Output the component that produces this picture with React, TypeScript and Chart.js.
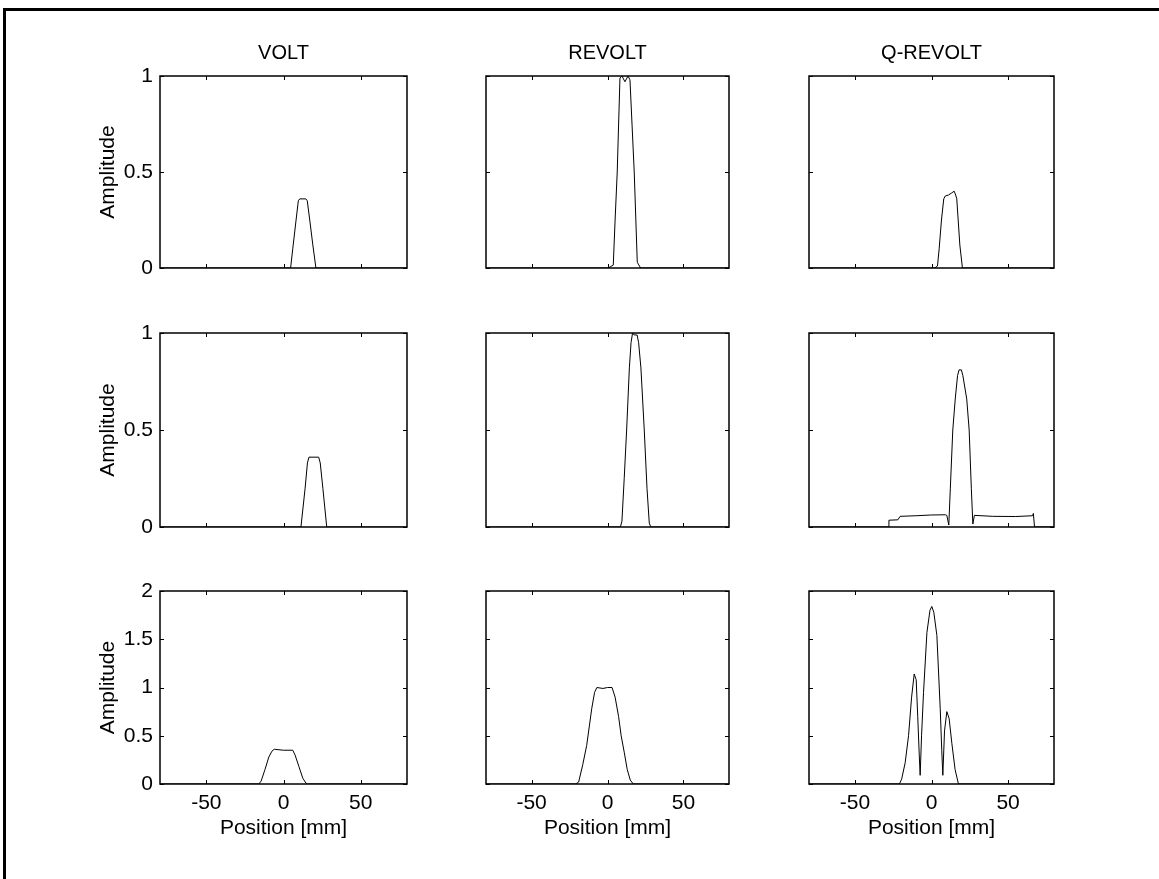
import React, { useEffect, useRef } from "react";
import { Chart, registerables } from "chart.js";

Chart.register(...registerables);
Chart.defaults.font.family = "'Liberation Sans', Arial, Helvetica, sans-serif";
Chart.defaults.color = "#000";

// ---------- data ----------
const columnTitles = ["VOLT", "REVOLT", "Q-REVOLT"];
const xTickValues = [-50, 0, 50];
const yTicksUnit = [0, 0.5, 1];
const yTicksDouble = [0, 0.5, 1, 1.5, 2];
const xAxisLabel = "Position [mm]";
const yAxisLabel = "Amplitude";

const voltRow1X = [-80, 4.6, 6, 8, 9.6, 10.5, 14.5, 15.4, 17, 19, 21, 80];
const voltRow1Y = [0, 0, 0.1, 0.24, 0.35, 0.36, 0.36, 0.35, 0.25, 0.12, 0, 0];

const revoltRow1X = [-80, 0.5, 3.8, 5, 6.4, 8.2, 9.5, 11.5, 13.5, 14.8, 16.2, 17.6, 19.6, 21.8, 80];
const revoltRow1Y = [0, 0, 0.015, 0.25, 0.5, 0.99, 1.0, 0.97, 1.0, 0.98, 0.74, 0.5, 0.03, 0, 0];

const qrevoltRow1X = [-80, 2, 3.9, 5, 6.5, 8, 9, 11, 13, 14.8, 15.8, 16.5, 18.5, 20.2, 80];
const qrevoltRow1Y = [0, 0, 0.01, 0.1, 0.25, 0.36, 0.375, 0.38, 0.39, 0.4, 0.38, 0.36, 0.12, 0, 0];

const voltRow2X = [-80, 11.3, 14, 15.5, 16.5, 22.8, 23.8, 25.5, 28, 80];
const voltRow2Y = [0, 0, 0.2, 0.33, 0.36, 0.36, 0.33, 0.2, 0, 0];

const revoltRow2X = [-80, 8.5, 9.5, 11, 12.6, 14.4, 15.5, 16.5, 17.5, 19.5, 20.5, 22, 24.2, 26, 27.5, 28.5, 80];
const revoltRow2Y = [0, 0, 0.03, 0.25, 0.5, 0.82, 0.95, 1.0, 0.99, 0.99, 0.95, 0.82, 0.5, 0.2, 0.02, 0, 0];

const qrevoltRow2X = [-80, -28, -27.8, -22, -20.5, -10, 0, 9, 10, 11.3, 12.3, 13.9, 15.5, 17, 18, 19.5, 20.5, 23, 24.6, 26, 27, 28, 40, 55, 66, 66.5, 67.3, 80];
const qrevoltRow2Y = [0, 0, 0.035, 0.037, 0.055, 0.058, 0.062, 0.063, 0.06, 0.01, 0.2, 0.5, 0.66, 0.78, 0.81, 0.81, 0.78, 0.66, 0.5, 0.2, 0.015, 0.06, 0.055, 0.054, 0.058, 0.07, 0, 0];

const voltRow3X = [-80, -16, -14.5, -12, -9.5, -7.5, -6, 0, 6, 7.5, 10, 12.5, 14.5, 15.5, 80];
const voltRow3Y = [0, 0, 0.03, 0.15, 0.28, 0.34, 0.36, 0.35, 0.35, 0.3, 0.18, 0.06, 0.01, 0, 0];

const revoltRow3X = [-80, -21, -19, -16.3, -13.7, -10.4, -8.5, -7, -3, 0, 3, 5, 7.3, 9, 11, 13, 15, 17, 80];
const revoltRow3Y = [0, 0, 0.02, 0.2, 0.4, 0.78, 0.95, 1.0, 0.99, 1.0, 1.0, 0.9, 0.7, 0.5, 0.33, 0.15, 0.04, 0, 0];

const qrevoltRow3X = [-80, -21, -19.5, -17.2, -15, -13, -11.3, -10, -9, -8, -7.4, -6.5, -5.2, -3, -1, 0.2, 1.5, 3.5, 5.7, 6.7, 7.4, 8.5, 10, 11.5, 13.3, 15.4, 17.6, 80];
const qrevoltRow3Y = [0, 0, 0.05, 0.22, 0.5, 0.9, 1.14, 1.08, 0.7, 0.3, 0.09, 0.5, 0.95, 1.57, 1.8, 1.84, 1.78, 1.54, 0.78, 0.35, 0.09, 0.55, 0.75, 0.68, 0.42, 0.15, 0, 0];

// ---------- layout ----------
const colLeft = [160, 486, 809];
const colRight = [407, 729, 1054];
const rowTop = [76, 333, 591];
const rowBottom = [268, 527, 784];
const TOP_SPACE = 40;
const RIGHT_SPACE = 10;
const TITLE_FONT = 20;
const AXIS_FONT = 21;

type PanelDef = {
  row: number;
  col: number;
  xs: number[];
  ys: number[];
};

const panels: PanelDef[] = [
  { row: 0, col: 0, xs: voltRow1X, ys: voltRow1Y },
  { row: 0, col: 1, xs: revoltRow1X, ys: revoltRow1Y },
  { row: 0, col: 2, xs: qrevoltRow1X, ys: qrevoltRow1Y },
  { row: 1, col: 0, xs: voltRow2X, ys: voltRow2Y },
  { row: 1, col: 1, xs: revoltRow2X, ys: revoltRow2Y },
  { row: 1, col: 2, xs: qrevoltRow2X, ys: qrevoltRow2Y },
  { row: 2, col: 0, xs: voltRow3X, ys: voltRow3Y },
  { row: 2, col: 1, xs: revoltRow3X, ys: revoltRow3Y },
  { row: 2, col: 2, xs: qrevoltRow3X, ys: qrevoltRow3Y },
];

const framePlugin = {
  id: "matlabFrame",
  afterDatasetsDraw(chart: any) {
    const { ctx, chartArea: a, scales } = chart;
    const tl = 4;
    ctx.save();
    ctx.strokeStyle = "#000";
    ctx.lineWidth = 1;
    ctx.beginPath();
    for (const t of scales.x.ticks) {
      const px = Math.round(scales.x.getPixelForValue(t.value)) + 0.5;
      ctx.moveTo(px, a.bottom);
      ctx.lineTo(px, a.bottom - tl);
      ctx.moveTo(px, a.top);
      ctx.lineTo(px, a.top + tl);
    }
    for (const t of scales.y.ticks) {
      const py = Math.round(scales.y.getPixelForValue(t.value)) + 0.5;
      ctx.moveTo(a.left, py);
      ctx.lineTo(a.left + tl, py);
      ctx.moveTo(a.right, py);
      ctx.lineTo(a.right - tl, py);
    }
    ctx.stroke();
    ctx.lineWidth = 1.5;
    ctx.strokeRect(a.left, a.top, a.right - a.left, a.bottom - a.top);
    ctx.restore();
  },
};

function Panel({ def }: { def: PanelDef }) {
  const ref = useRef<HTMLCanvasElement | null>(null);
  const showY = def.col === 0;
  const showX = def.row === 2;
  const showTitle = def.row === 0;
  const leftW = showY ? 70 : 10;
  const bottomH = showX ? 57 : 20;
  const L = colLeft[def.col];
  const R = colRight[def.col];
  const T = rowTop[def.row];
  const B = rowBottom[def.row];
  const width = leftW + (R - L) + RIGHT_SPACE;
  const height = TOP_SPACE + (B - T) + bottomH;
  const yTicks = def.row === 2 ? yTicksDouble : yTicksUnit;
  const yMax = yTicks[yTicks.length - 1];

  useEffect(() => {
    if (!ref.current) return;
    const chart = new Chart(ref.current, {
      type: "line",
      data: {
        datasets: [
          {
            data: def.xs.map((x, i) => ({ x, y: def.ys[i] })),
            borderColor: "#000",
            borderWidth: 1,
            pointRadius: 0,
            tension: 0,
            fill: false,
          },
        ],
      },
      options: {
        responsive: false,
        animation: false,
        events: [],
        layout: {
          padding: { top: showTitle ? 0 : TOP_SPACE, right: RIGHT_SPACE, left: 0, bottom: 0 },
        },
        plugins: {
          legend: { display: false },
          tooltip: { enabled: false },
          title: {
            display: showTitle,
            text: columnTitles[def.col],
            color: "#000",
            fullSize: false,
            font: { size: TITLE_FONT, weight: "normal" },
            padding: { top: 5, bottom: 11 },
          },
        },
        scales: {
          x: {
            type: "linear",
            min: -80,
            max: 80,
            afterBuildTicks: (s: any) => {
              s.ticks = xTickValues.map((v) => ({ value: v }));
            },
            afterFit: (s: any) => {
              s.height = bottomH;
            },
            grid: { display: false, drawTicks: false },
            border: { display: false },
            ticks: {
              display: showX,
              padding: 7,
              maxRotation: 0,
              autoSkip: false,
              color: "#000",
              font: { size: AXIS_FONT },
              callback: (v: any) => String(v),
            },
            title: {
              display: showX,
              text: xAxisLabel,
              color: "#000",
              font: { size: AXIS_FONT },
              padding: { top: 0, bottom: 0 },
            },
          },
          y: {
            type: "linear",
            min: 0,
            max: yMax,
            afterBuildTicks: (s: any) => {
              s.ticks = yTicks.map((v) => ({ value: v }));
            },
            afterFit: (s: any) => {
              s.width = leftW;
            },
            grid: { display: false, drawTicks: false },
            border: { display: false },
            ticks: {
              display: showY,
              padding: 7,
              autoSkip: false,
              color: "#000",
              font: { size: AXIS_FONT },
              callback: (v: any) => String(v),
            },
            title: {
              display: showY,
              text: yAxisLabel,
              color: "#000",
              font: { size: AXIS_FONT },
              padding: { top: 6, bottom: 0 },
            },
          },
        },
      } as any,
      plugins: [framePlugin],
    });
    return () => chart.destroy();
  }, []);

  return (
    <canvas
      ref={ref}
      width={width}
      height={height}
      style={{
        position: "absolute",
        left: L - leftW,
        top: T - TOP_SPACE,
        width,
        height,
      }}
    />
  );
}

export default function App() {
  return (
    <div
      style={{
        position: "absolute",
        left: 0,
        top: 0,
        width: 1159,
        height: 879,
        background: "#fff",
        overflow: "hidden",
      }}
    >
      <div
        style={{
          position: "absolute",
          left: 3,
          top: 8,
          width: 1156,
          height: 871,
          borderTop: "3px solid #000",
          borderLeft: "3px solid #000",
          boxSizing: "border-box",
        }}
      />
      {panels.map((p, i) => (
        <Panel key={i} def={p} />
      ))}
    </div>
  );
}
